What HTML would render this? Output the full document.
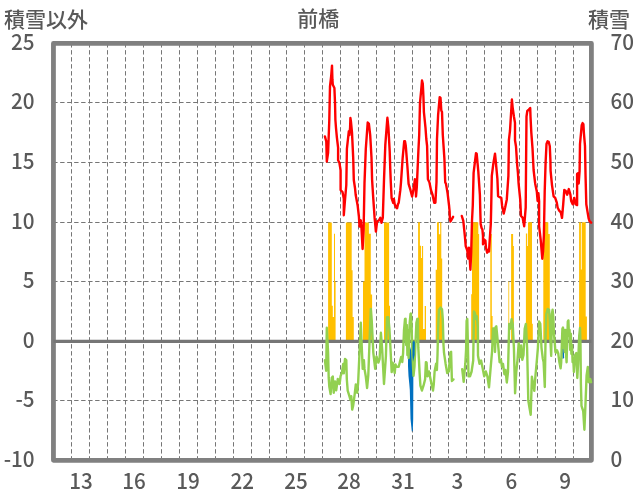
<!DOCTYPE html>
<html><head><meta charset="utf-8"><style>
html,body{margin:0;padding:0;background:#fff;}
svg{display:block;}
text{font-family:"Noto Sans CJK JP", "Liberation Sans", sans-serif;font-size:22px;fill:#595959;}
.cjk{font-size:21px;font-family:"Liberation Sans", "Noto Sans CJK JP", sans-serif;}
text{font-weight:500;}
svg{will-change:transform;}
</style></head><body>
<svg width="636" height="501" viewBox="0 0 636 501">
<rect width="636" height="501" fill="#fff"/>
<g stroke="#767676" stroke-width="1" stroke-dasharray="4.4 2.6" stroke-dashoffset="0.3" fill="none">
<line x1="71.50" y1="43.45" x2="71.50" y2="460.35" stroke-dashoffset="0.3"/>
<line x1="89.50" y1="43.45" x2="89.50" y2="460.35" stroke-dashoffset="0.3"/>
<line x1="107.50" y1="43.45" x2="107.50" y2="460.35" stroke-dashoffset="0.3"/>
<line x1="125.50" y1="43.45" x2="125.50" y2="460.35" stroke-dashoffset="0.3"/>
<line x1="143.50" y1="43.45" x2="143.50" y2="460.35" stroke-dashoffset="0.3"/>
<line x1="161.50" y1="43.45" x2="161.50" y2="460.35" stroke-dashoffset="0.3"/>
<line x1="179.50" y1="43.45" x2="179.50" y2="460.35" stroke-dashoffset="0.3"/>
<line x1="197.50" y1="43.45" x2="197.50" y2="460.35" stroke-dashoffset="0.3"/>
<line x1="215.50" y1="43.45" x2="215.50" y2="460.35" stroke-dashoffset="0.3"/>
<line x1="233.50" y1="43.45" x2="233.50" y2="460.35" stroke-dashoffset="0.3"/>
<line x1="251.50" y1="43.45" x2="251.50" y2="460.35" stroke-dashoffset="0.3"/>
<line x1="269.50" y1="43.45" x2="269.50" y2="460.35" stroke-dashoffset="0.3"/>
<line x1="286.50" y1="43.45" x2="286.50" y2="460.35" stroke-dashoffset="0.3"/>
<line x1="304.50" y1="43.45" x2="304.50" y2="460.35" stroke-dashoffset="0.3"/>
<line x1="322.50" y1="43.45" x2="322.50" y2="460.35" stroke-dashoffset="0.3"/>
<line x1="340.50" y1="43.45" x2="340.50" y2="460.35" stroke-dashoffset="0.3"/>
<line x1="358.50" y1="43.45" x2="358.50" y2="460.35" stroke-dashoffset="0.3"/>
<line x1="376.50" y1="43.45" x2="376.50" y2="460.35" stroke-dashoffset="0.3"/>
<line x1="394.50" y1="43.45" x2="394.50" y2="460.35" stroke-dashoffset="0.3"/>
<line x1="412.50" y1="43.45" x2="412.50" y2="460.35" stroke-dashoffset="0.3"/>
<line x1="430.50" y1="43.45" x2="430.50" y2="460.35" stroke-dashoffset="0.3"/>
<line x1="448.50" y1="43.45" x2="448.50" y2="460.35" stroke-dashoffset="0.3"/>
<line x1="466.50" y1="43.45" x2="466.50" y2="460.35" stroke-dashoffset="0.3"/>
<line x1="484.50" y1="43.45" x2="484.50" y2="460.35" stroke-dashoffset="0.3"/>
<line x1="501.50" y1="43.45" x2="501.50" y2="460.35" stroke-dashoffset="0.3"/>
<line x1="519.50" y1="43.45" x2="519.50" y2="460.35" stroke-dashoffset="0.3"/>
<line x1="537.50" y1="43.45" x2="537.50" y2="460.35" stroke-dashoffset="0.3"/>
<line x1="555.50" y1="43.45" x2="555.50" y2="460.35" stroke-dashoffset="0.3"/>
<line x1="573.50" y1="43.45" x2="573.50" y2="460.35" stroke-dashoffset="0.3"/>
<line x1="53.45" y1="102.50" x2="591.40" y2="102.50"/>
<line x1="53.45" y1="162.50" x2="591.40" y2="162.50"/>
<line x1="53.45" y1="222.50" x2="591.40" y2="222.50"/>
<line x1="53.45" y1="281.50" x2="591.40" y2="281.50"/>
<line x1="53.45" y1="400.50" x2="591.40" y2="400.50"/>
</g>
<rect x="53.45" y="43.45" width="537.95" height="416.90" fill="none" stroke="#808080" stroke-width="4.8" stroke-linejoin="round"/>
<path d="M328.1 222.4H331.8V341.45H328.1ZM331.8 305.8H332.8V341.45H331.8ZM332.8 317.0H334.1V341.45H332.8ZM334.0 233.8H335.0V341.45H334.0ZM335.0 281.6H335.6V341.45H335.0ZM345.9 222.4H351.7V341.45H345.9ZM351.7 270.3H352.6V341.45H351.7ZM352.6 317.0H353.8V341.45H352.6ZM363.0 281.6H364.5V341.45H363.0ZM364.5 222.4H368.9V341.45H364.5ZM368.9 233.8H370.8V341.45H368.9ZM370.8 294.4H372.1V341.45H370.8ZM384.0 222.4H389.1V341.45H384.0ZM389.1 305.8H390.0V341.45H389.1ZM418.1 222.2H419.9V341.45H418.1ZM419.9 245.7H421.1V341.45H419.9ZM421.1 258.0H422.0V341.45H421.1ZM422.0 246.0H423.1V341.45H422.0ZM423.1 329.0H424.7V341.45H423.1ZM424.7 306.0H426.0V341.45H424.7ZM435.7 269.7H437.0V341.45H435.7ZM437.0 222.2H438.9V341.45H437.0ZM438.9 234.2H440.2V341.45H438.9ZM440.2 222.2H441.3V341.45H440.2ZM441.3 258.6H442.2V341.45H441.3ZM471.2 294.2H472.0V341.45H471.2ZM472.0 222.2H478.3V341.45H472.0ZM478.3 234.0H479.1V341.45H478.3ZM490.3 234.0H491.8V341.45H490.3ZM491.8 316.0H492.6V341.45H491.8ZM508.4 281.5H509.2V341.45H508.4ZM511.1 234.0H513.1V341.45H511.1ZM513.1 246.0H513.9V341.45H513.1ZM525.0 323.7H525.7V341.45H525.0ZM525.9 233.5H527.2V341.45H525.9ZM527.2 246.0H528.0V341.45H527.2ZM528.0 222.3H532.0V341.45H528.0ZM532.0 323.7H532.8V341.45H532.0ZM543.3 222.3H548.3V341.45H543.3ZM548.3 234.0H549.8V341.45H548.3ZM579.1 222.2H580.9V341.45H579.1ZM580.9 269.6H581.7V341.45H580.9ZM581.7 222.2H585.7V341.45H581.7ZM585.7 316.4H586.9V341.45H585.7Z" fill="#FFC000"/>
<line x1="53.45" y1="341.45" x2="591.4" y2="341.45" stroke="#767676" stroke-width="3.2"/>
<polygon points="412.5,341.5 415.0,341.5 415.0,356.0 413.4,366.0 413.2,419.0 412.8,431.0 411.8,431.5 410.5,419.0 409.8,390.0 409.3,384.0 408.5,376.0 408.0,366.0 408.0,356.0 410.0,350.0" fill="#0070C0"/>
<polygon points="561.3,341.5 563.3,341.5 564.2,358.0 562.6,359.0" fill="#0070C0"/>
<polyline points="324.9,360.1 325.5,365.2 326.2,370.8 326.8,327.8 328.1,352.6 328.7,377.7 329.3,386.5 330.6,394.1 331.8,377.7 332.8,376.5 333.7,392.8 335.0,381.5 336.2,390.3 337.8,379.0 338.7,383.5 339.6,384.0 340.6,376.0 341.9,372.7 343.2,363.9 343.8,373.3 345.0,358.9 346.3,360.1 346.8,379.0 347.7,390.7 349.1,395.2 350.4,399.7 351.3,396.1 352.2,409.6 353.1,406.0 354.0,399.7 354.9,392.5 355.8,384.4 356.7,391.6 357.2,392.8 358.1,383.5 359.5,352.6 360.8,322.7 362.0,352.6 362.7,368.9 363.9,360.1 364.5,368.9 365.8,376.5 367.1,388.0 368.3,375.2 369.6,340.0 370.8,308.9 371.7,320.0 373.3,352.6 375.2,368.9 376.5,356.4 378.4,362.6 379.6,358.9 380.9,332.8 382.2,350.0 384.0,384.0 385.9,356.4 387.0,317.1 388.3,317.1 389.4,328.5 390.3,345.0 391.7,372.1 392.6,362.6 393.6,366.4 394.7,373.1 395.5,364.5 396.3,366.8 398.7,366.8 400.2,360.7 401.2,356.9 402.3,362.0 403.1,353.1 404.0,330.0 405.0,319.0 405.6,318.8 406.2,345.0 406.8,325.0 407.4,355.0 408.0,330.0 408.6,358.0 409.2,335.0 409.7,322.8 410.5,314.0 410.9,313.4 411.6,325.0 412.2,350.0 412.6,356.9 413.5,375.9 414.5,366.4 415.4,345.0 416.4,322.8 417.3,319.0 417.9,318.8 418.3,347.4 419.6,373.1 420.4,385.7 421.9,390.5 423.5,385.7 425.1,379.4 425.9,362.1 426.6,362.5 427.5,376.3 429.0,371.5 430.6,379.4 432.2,387.3 433.0,390.5 433.8,384.2 434.6,371.5 436.1,363.7 436.9,370.0 437.5,355.0 438.1,330.0 438.9,310.0 440.5,307.6 442.0,309.2 442.8,319.4 443.5,345.0 444.0,352.6 445.6,363.7 447.2,373.1 448.8,371.5 450.3,352.6 451.1,351.8 451.9,381.0 453.5,379.4" fill="none" stroke="#92D050" stroke-width="2.4" stroke-linejoin="round" stroke-linecap="round"/>
<polyline points="462.2,369.2 463.7,381.8 465.3,363.7 466.1,349.5 466.6,321.0 467.3,319.0 468.0,350.0 468.5,376.3 470.0,376.3 471.6,371.5 473.2,360.5 474.0,311.4 474.9,313.3 475.9,319.0 476.8,316.1 477.8,326.6 478.0,355.8 479.5,363.7 481.1,360.5 482.7,368.4 484.2,376.3 485.8,371.5 487.4,376.3 489.0,387.3 490.6,368.4 492.1,351.0 493.0,328.5 494.2,328.4 495.0,352.0 495.8,326.8 496.3,326.3 498.4,347.8 499.6,362.2 501.0,360.0 502.0,367.0 503.0,364.0 504.4,374.2 505.5,370.0 506.8,382.5 508.0,371.8 509.2,323.9 510.4,328.7 511.6,319.1 512.7,323.9 513.9,347.8 515.1,393.3 516.3,371.8 517.5,359.8 518.7,343.1 519.9,357.4 521.1,345.5 522.3,359.8 523.5,355.0 524.7,328.7 525.9,323.9 527.1,347.8 528.3,400.5 529.5,407.7 530.7,414.8 531.9,376.6 533.1,383.7 534.3,390.9 535.5,375.0 536.7,362.2 537.9,347.8 539.1,321.5 540.3,323.9 541.5,347.8 542.8,358.7 543.6,362.0 544.8,387.0 545.6,334.9 546.3,314.0 547.7,309.1 549.1,309.8 549.8,321.0 550.5,341.9 551.2,355.9 551.9,314.0 552.6,309.8 553.3,316.8 554.0,334.9 554.7,341.9 555.4,352.0 555.8,352.7 557.0,350.3 558.2,353.1 559.4,362.3 560.6,368.3 561.2,362.3 561.8,345.0 562.4,328.8 563.0,327.6 563.6,348.0 564.2,330.0 564.8,352.0 565.4,330.0 566.0,353.9 566.6,362.3 567.2,340.0 567.8,321.6 568.4,320.4 569.0,336.0 569.6,330.0 570.2,350.0 570.8,333.6 571.4,353.9 572.0,345.0 572.6,362.3 573.2,358.0 573.9,372.0 575.0,355.4 576.3,353.1 577.3,378.0 578.1,363.5 579.2,336.0 580.0,328.0 580.5,345.0 580.9,383.9 581.5,405.9 583.2,411.0 584.4,429.7 585.4,405.9 586.6,375.4 587.8,366.9 588.7,382.2 590.3,379.0 591.1,382.2" fill="none" stroke="#92D050" stroke-width="2.4" stroke-linejoin="round" stroke-linecap="round"/>
<polygon points="412.6,341.5 414.8,341.5 414.6,355.0 413.0,362.0 412.4,355.0" fill="#0070C0"/>
<polyline points="324.9,136.4 326.3,141.5 326.8,161.5 328.1,152.7 329.3,120.0 329.7,100.0 330.0,86.4 331.2,76.0 332.0,65.6 332.4,79.2 332.8,84.8 334.4,88.0 335.0,102.3 335.4,120.0 336.0,128.0 336.9,137.6 338.1,147.7 338.1,160.3 339.4,162.8 340.6,170.3 340.6,190.0 342.5,192.0 343.8,198.9 343.8,215.2 345.0,200.0 346.3,185.0 346.9,148.9 348.8,131.3 349.4,135.1 350.1,127.5 350.4,118.0 351.0,122.0 352.0,132.6 353.2,157.7 353.8,180.0 355.1,188.8 355.7,195.0 357.6,205.2 358.9,216.5 359.5,226.5 360.8,220.3 361.4,226.5 362.6,249.0 363.6,230.0 364.5,183.0 365.8,148.9 367.7,122.5 368.9,123.8 370.2,135.1 371.5,157.7 372.1,180.0 373.3,198.9 374.6,217.7 375.9,231.6 377.1,221.5 379.0,220.3 380.3,217.7 381.5,222.8 382.8,217.7 384.0,180.0 385.3,145.2 387.2,120.0 387.4,117.8 388.4,127.5 389.7,151.4 390.3,170.0 390.8,182.3 391.6,198.1 393.2,202.8 393.9,198.9 394.7,204.4 396.3,207.6 397.1,208.3 397.9,204.4 398.7,202.8 400.3,190.2 401.0,182.3 402.6,158.7 404.2,141.3 405.0,141.3 405.8,146.0 407.4,166.5 408.6,183.9 410.5,190.2 412.1,196.5 413.7,188.6 414.9,179.2 415.6,180.7 416.0,196.5 416.8,187.1 418.4,150.8 419.2,135.0 420.0,102.6 421.2,90.0 422.0,80.5 422.8,83.7 423.4,96.3 423.9,112.0 425.5,127.8 426.3,139.0 427.1,146.0 427.9,179.2 429.4,182.3 431.0,190.2 432.6,195.0 434.2,202.8 435.4,202.8 436.5,182.3 437.0,139.0 438.1,115.2 439.7,97.1 440.5,97.9 441.3,110.5 442.0,112.0 442.8,135.0 444.4,158.7 445.2,182.3 446.0,183.9 447.6,193.4 449.1,206.0 449.6,211.3 449.9,219.2 450.5,221.5 453.1,216.8" fill="none" stroke="#FF0000" stroke-width="2.4" stroke-linejoin="round" stroke-linecap="round"/>
<polyline points="461.8,216.0 463.3,220.8 464.9,236.5 465.7,246.0 467.3,250.7 468.1,258.6 468.9,247.6 469.5,255.0 470.4,269.7 471.2,252.3 472.0,220.8 472.8,205.0 473.6,172.9 476.0,153.1 476.7,153.9 478.3,171.3 479.9,195.0 480.4,215.0 480.7,223.9 481.5,227.8 482.4,229.3 483.0,236.0 483.0,244.3 484.2,239.5 485.4,240.7 486.0,247.9 487.2,252.7 488.0,250.0 489.0,251.5 489.6,241.9 490.8,224.0 491.2,207.3 491.8,175.8 493.4,163.2 495.0,153.6 495.8,161.6 497.4,178.9 498.1,196.3 499.7,197.1 501.3,197.9 502.1,205.7 503.7,213.6 505.2,207.3 506.8,199.4 508.4,175.8 508.9,140.2 510.0,130.7 511.9,99.5 512.6,107.1 513.9,116.5 515.0,122.9 515.0,140.2 516.0,146.5 517.1,164.0 517.9,172.6 518.6,183.7 520.2,199.4 521.0,216.0 522.6,217.6 524.2,226.2 525.7,207.3 526.1,160.0 526.5,116.5 527.3,111.0 528.5,110.0 530.2,107.9 530.5,116.5 531.3,132.3 532.5,148.1 533.6,170.0 535.2,183.7 536.8,191.5 537.6,201.0 538.4,193.1 539.1,201.0 539.1,226.2 540.7,240.0 542.3,258.7 543.1,250.8 543.9,235.0 544.7,191.5 545.6,162.8 546.5,144.0 547.6,141.3 548.7,141.8 549.8,146.2 550.4,160.0 550.6,170.8 552.0,185.1 553.6,196.3 555.2,197.9 556.8,202.7 557.6,207.5 559.2,210.7 560.8,212.3 562.0,217.9 563.2,204.3 564.3,189.9 565.6,190.7 567.2,194.7 568.8,189.1 570.4,194.7 571.2,201.1 572.7,204.3 574.3,197.9 575.5,204.3 577.1,205.1 577.1,174.0 578.0,173.2 578.7,183.5 579.6,170.8 580.0,144.0 581.7,125.3 582.6,123.1 583.4,124.2 583.9,133.0 585.0,146.2 585.5,174.0 586.3,204.3 587.6,212.3 588.7,218.7 589.5,221.1 591.1,222.7" fill="none" stroke="#FF0000" stroke-width="2.4" stroke-linejoin="round" stroke-linecap="round"/>

<text transform="translate(34.6 49.85) scale(0.94 1)" text-anchor="end">25</text>
<text transform="translate(34.6 108.85) scale(0.94 1)" text-anchor="end">20</text>
<text transform="translate(34.6 168.85) scale(0.94 1)" text-anchor="end">15</text>
<text transform="translate(34.6 228.85) scale(0.94 1)" text-anchor="end">10</text>
<text transform="translate(34.6 287.85) scale(0.94 1)" text-anchor="end">5</text>
<text transform="translate(34.6 347.85) scale(0.94 1)" text-anchor="end">0</text>
<text transform="translate(34.6 406.85) scale(0.94 1)" text-anchor="end">-5</text>
<text transform="translate(34.6 466.75) scale(0.94 1)" text-anchor="end">-10</text>
<text transform="translate(610.4 49.85) scale(0.94 1)">70</text>
<text transform="translate(610.4 108.85) scale(0.94 1)">60</text>
<text transform="translate(610.4 168.85) scale(0.94 1)">50</text>
<text transform="translate(610.4 228.85) scale(0.94 1)">40</text>
<text transform="translate(610.4 287.85) scale(0.94 1)">30</text>
<text transform="translate(610.4 347.85) scale(0.94 1)">20</text>
<text transform="translate(610.4 406.85) scale(0.94 1)">10</text>
<text transform="translate(610.4 466.75) scale(0.94 1)">0</text>
<text transform="translate(80.95 488.7) scale(0.94 1)" text-anchor="middle">13</text>
<text transform="translate(133.94 488.7) scale(0.94 1)" text-anchor="middle">16</text>
<text transform="translate(188.04 488.7) scale(0.94 1)" text-anchor="middle">19</text>
<text transform="translate(242.33 488.7) scale(0.94 1)" text-anchor="middle">22</text>
<text transform="translate(296.13 488.7) scale(0.94 1)" text-anchor="middle">25</text>
<text transform="translate(349.12 488.7) scale(0.94 1)" text-anchor="middle">28</text>
<text transform="translate(403.02 488.7) scale(0.94 1)" text-anchor="middle">31</text>
<text transform="translate(457.51 488.7) scale(0.94 1)" text-anchor="middle">3</text>
<text transform="translate(511.31 488.7) scale(0.94 1)" text-anchor="middle">6</text>
<text transform="translate(565.10 488.7) scale(0.94 1)" text-anchor="middle">9</text>
<text x="318.2" y="26" text-anchor="middle" class="cjk">前橋</text>
<text x="4.0" y="26.5" class="cjk">積雪以外</text>
<text x="630" y="26.5" text-anchor="end" class="cjk">積雪</text>
</svg>
</body></html>
